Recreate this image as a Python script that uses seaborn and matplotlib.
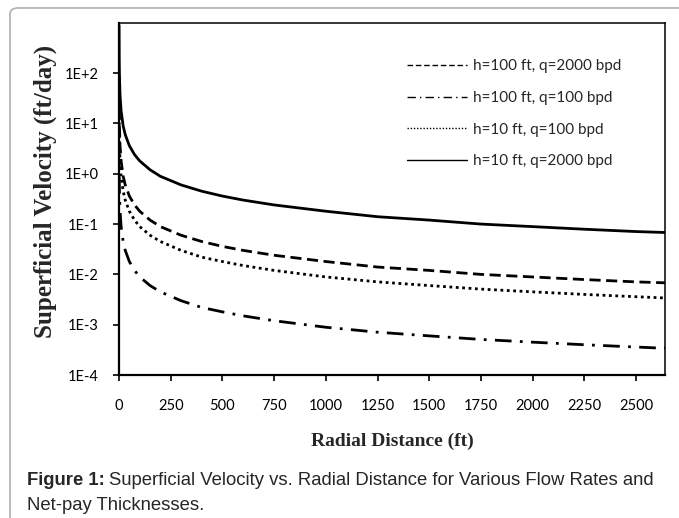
import matplotlib
matplotlib.use("Agg")
import matplotlib.pyplot as plt
from matplotlib.patches import FancyBboxPatch
from matplotlib.ticker import FixedLocator, NullLocator
import pandas as pd
import seaborn as sns

# radial distance (ft) and superficial velocity (ft/day)
radius = [0.2, 1, 2, 5, 10, 20, 30, 50, 75, 100, 150, 200, 300, 400, 500,
          600, 750, 1000, 1250, 1500, 1750, 2000, 2250, 2500, 2640]
v_h100_q2000 = [89, 17.9, 8.9, 3.6, 1.79, 0.89, 0.60, 0.36, 0.24, 0.18, 0.12,
                0.089, 0.060, 0.045, 0.036, 0.030, 0.024, 0.018, 0.014, 0.012,
                0.010, 0.0089, 0.0079, 0.0071, 0.0068]
v_h100_q100 = [4.5, 0.89, 0.45, 0.18, 0.089, 0.045, 0.030, 0.018, 0.012,
               0.0089, 0.0060, 0.0045, 0.0030, 0.0022, 0.0018, 0.0015, 0.0012,
               0.00089, 0.00071, 0.00060, 0.00051, 0.00045, 0.00040, 0.00036,
               0.00034]
v_h10_q100 = [45, 8.9, 4.5, 1.8, 0.89, 0.45, 0.30, 0.18, 0.12, 0.089, 0.060,
              0.045, 0.030, 0.022, 0.018, 0.015, 0.012, 0.0089, 0.0071, 0.0060,
              0.0051, 0.0045, 0.0040, 0.0036, 0.0034]
v_h10_q2000 = [894, 179, 89, 36, 17.9, 8.9, 6.0, 3.6, 2.4, 1.8, 1.2, 0.89,
               0.60, 0.45, 0.36, 0.30, 0.24, 0.18, 0.14, 0.12, 0.10, 0.089,
               0.079, 0.071, 0.068]

series_labels = ["h=100 ft, q=2000 bpd", "h=100 ft, q=100 bpd",
                 "h=10 ft, q=100 bpd", "h=10 ft, q=2000 bpd"]
y_ticks = [1e-4, 1e-3, 1e-2, 1e-1, 1e0, 1e1, 1e2]
y_tick_labels = ["1E-4", "1E-3", "1E-2", "1E-1", "1E+0", "1E+1", "1E+2"]
x_ticks = [0, 250, 500, 750, 1000, 1250, 1500, 1750, 2000, 2250, 2500]


def main():
    sns.set_theme(style="white")
    plt.rcParams["font.family"] = ["Lato", "DejaVu Sans"]

    fig = plt.figure(figsize=(6.79, 5.18), dpi=100)
    frame = FancyBboxPatch((0.0147, -0.1), 1.2, 1.0846,
                           boxstyle="round,pad=0,rounding_size=0.012",
                           transform=fig.transFigure, facecolor="white",
                           edgecolor="#b0b0b0", linewidth=1.2, zorder=-10)
    fig.patches.append(frame)

    ax = fig.add_axes([0.1753, 0.276, 0.804, 0.680])
    ax.set_facecolor("none")

    styles = [(0, (4, 2)), (0, (6, 3, 1, 3)), (0, (1, 1.3)), "-"]
    values = [v_h100_q2000, v_h100_q100, v_h10_q100, v_h10_q2000]
    for label, vals, ls in zip(series_labels, values, styles):
        df = pd.DataFrame({"r": radius, "v": vals})
        sns.lineplot(data=df, x="r", y="v", ax=ax, color="black", lw=2,
                     linestyle=ls, label=label, estimator=None, sort=True)

    ax.set_yscale("log")
    ax.set_xlim(0, 2640)
    ax.set_ylim(1e-4, 1e3)
    ax.yaxis.set_major_locator(FixedLocator(y_ticks))
    ax.set_yticklabels(y_tick_labels)
    ax.yaxis.set_minor_locator(NullLocator())
    ax.set_xticks(x_ticks)
    ax.set_xticklabels([str(t) for t in x_ticks])

    ax.tick_params(axis="both", which="major", direction="out", length=4.5,
                   width=1.2, color="black", labelsize=10.5, labelcolor="black",
                   bottom=True, left=True)
    ax.tick_params(axis="x", pad=13)
    ax.tick_params(axis="y", pad=10)

    for side in ["left", "bottom"]:
        ax.spines[side].set_linewidth(1.6)
        ax.spines[side].set_color("black")
    for side in ["top", "right"]:
        ax.spines[side].set_linewidth(1.1)
        ax.spines[side].set_color("black")

    ax.set_xlabel("Radial Distance (ft)", fontsize=14, fontweight="bold",
                  family="Liberation Serif", labelpad=14)
    ax.set_ylabel("Superficial Velocity (ft/day)", fontsize=18,
                  fontweight="bold", family="Liberation Serif")
    ax.yaxis.set_label_coords(-0.113, 0.52)

    leg = ax.legend(loc="upper right", bbox_to_anchor=(0.945, 0.935),
                    frameon=False, fontsize=11, handlelength=3.9,
                    labelspacing=1.15, handletextpad=0.4)
    for line in leg.get_lines():
        line.set_linewidth(1.0)

    cap_size = 13.3
    bold = fig.text(0.04, 0.063, "Figure 1:", fontsize=cap_size,
                    fontweight="bold", family="Liberation Sans", ha="left",
                    va="baseline")
    renderer = fig.canvas.get_renderer()
    bb = bold.get_window_extent(renderer).transformed(fig.transFigure.inverted())
    fig.text(bb.x1 + 0.006, 0.063,
             "Superficial Velocity vs. Radial Distance for Various Flow Rates and",
             fontsize=cap_size, family="Liberation Sans", ha="left",
             va="baseline")
    fig.text(0.04, 0.016, "Net-pay Thicknesses.", fontsize=cap_size,
             family="Liberation Sans", ha="left", va="baseline")

    fig.savefig("out.png", dpi=100)
    plt.close(fig)


if __name__ == "__main__":
    main()
